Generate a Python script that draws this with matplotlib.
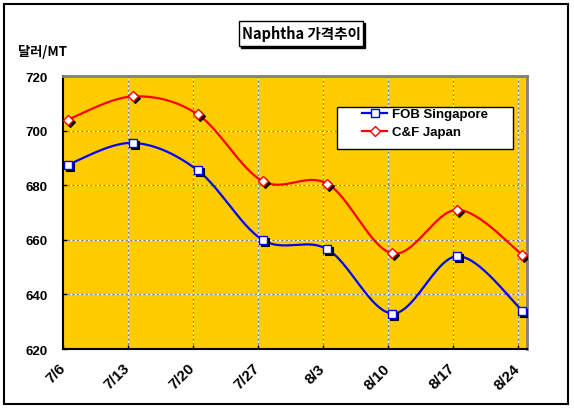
"""
Naphtha price trend (FOB Singapore vs C&F Japan), weekly, smoothed lines
in the old Excel style: gold plot area, shadowed markers, boxed title.

Output: out.png (574x410).
"""

import matplotlib
matplotlib.use("Agg")
import matplotlib.pyplot as plt
import matplotlib.transforms as mtransforms
from matplotlib.patches import Rectangle
import numpy as np
import pandas as pd

dates = ["7/6", "7/13", "7/20", "7/27", "8/3", "8/10", "8/17", "8/24"]
fob_singapore = [687.5, 695.5, 685.5, 660.0, 656.5, 633.0, 654.0, 634.0]
cf_japan = [704.0, 712.5, 706.0, 681.5, 680.5, 655.0, 671.0, 654.5]
y_ticks = [620, 640, 660, 680, 700, 720]

BG_PLOT = "#FFCC00"
W, H = 574, 410
KR = ["Noto Sans CJK KR", "DejaVu Sans"]
LAT = ["Liberation Sans", "DejaVu Sans"]


def excel_smooth(x, y, n=30):
    """Bezier smoothing like Excel's 'smoothed line' (Catmull-Rom, 1/6)."""
    x = np.asarray(x, float)
    y = np.asarray(y, float)
    px = np.concatenate([[x[0]], x, [x[-1]]])
    py = np.concatenate([[y[0]], y, [y[-1]]])
    t = np.linspace(0, 1, n)[:, None]
    xs, ys = [], []
    for i in range(1, len(px) - 2):
        p0 = np.array([px[i], py[i]])
        p3 = np.array([px[i + 1], py[i + 1]])
        c1 = p0 + (p3 - np.array([px[i - 1], py[i - 1]])) / 6
        c2 = p3 - (np.array([px[i + 2], py[i + 2]]) - p0) / 6
        seg = ((1 - t) ** 3) * p0 + 3 * ((1 - t) ** 2) * t * c1 \
            + 3 * (1 - t) * t ** 2 * c2 + t ** 3 * p3
        xs.append(seg[:, 0])
        ys.append(seg[:, 1])
    return np.concatenate(xs), np.concatenate(ys)


# day offsets from the first date; Excel centres each point in its day
dt = pd.to_datetime(["2007/" + d for d in dates])
ticks = np.array((dt - dt[0]).days, float)
xpts = ticks + 0.5

fig = plt.figure(figsize=(W / 100, H / 100), dpi=100, facecolor="white")
ax = fig.add_axes([63 / W, 1 - 350 / H, (527 - 63) / W, (350 - 77) / H])
ax.set_facecolor(BG_PLOT)

shadow = ax.transData + mtransforms.ScaledTranslation(2 / 100, -2 / 100,
                                                         fig.dpi_scale_trans)
series = [
    (fob_singapore, "#0000FF", "s", 5.2, "FOB Singapore"),
    (cf_japan, "#FF0000", "D", 4.6, "C&F Japan"),
]
handles = []
for vals, col, mk, ms, lab in series:
    sx, sy = excel_smooth(xpts, vals)
    ax.plot(sx, sy, color=col, lw=1.6, zorder=3)
    ax.plot(xpts, vals, ls="none", marker=mk, ms=ms, mfc="black",
            mec="black", mew=0.8, transform=shadow, zorder=3.5)
    ax.plot(xpts, vals, ls="none", marker=mk, ms=ms, mfc="white",
            mec=col, mew=1.0, zorder=4)
    h, = ax.plot([], [], color=col, lw=1.6, marker=mk, ms=ms, mfc="white",
                 mec=col, mew=1.0, label=lab)
    handles.append(h)

ax.set_xlim(0, 50)
ax.set_ylim(620, 720)
ax.set_xticks(ticks)
ax.set_xticklabels(dates, rotation=45, ha="right", va="center",
                   rotation_mode="anchor", fontweight="bold", fontsize=11,
                   family=LAT)
ax.set_yticks(y_ticks)
ax.set_yticklabels([str(v) for v in y_ticks], fontweight="bold",
                   fontsize=9.5, family=LAT)
ax.tick_params(axis="x", direction="in", length=3, width=1, pad=12)
ax.tick_params(axis="y", direction="in", length=3, width=1, pad=11)
ax.grid(True, color="#808080", linestyle=(0, (2, 2)), gapcolor="white",
        lw=0.8, zorder=1)
ax.set_axisbelow(True)
for side in ("left", "bottom"):
    ax.spines[side].set_color("black")
    ax.spines[side].set_linewidth(1.5)
for side in ("top", "right"):
    ax.spines[side].set_color("#808080")
    ax.spines[side].set_linewidth(2)

# legend box
ax.add_patch(Rectangle((337 / W, 1 - 150 / H), (513 - 337) / W, 42 / H,
                       transform=fig.transFigure, facecolor="white",
                       edgecolor="black", lw=1, zorder=5, clip_on=False))
leg = ax.legend(handles=handles, loc="upper left",
                bbox_to_anchor=(362 / W, 1 - 109 / H),
                bbox_transform=fig.transFigure, frameon=False,
                handlelength=1.9, handletextpad=0.4, labelspacing=0.45,
                borderpad=0, borderaxespad=0,
                prop={"family": LAT, "weight": "bold", "size": 9.5})
leg.set_zorder(6)

# boxed title with drop shadow
fig.patches.append(Rectangle((241 / W, 1 - 49 / H), 124 / W, 25 / H,
                             transform=fig.transFigure, facecolor="black",
                             edgecolor="black", lw=1))
fig.patches.append(Rectangle((239 / W, 1 - 47 / H), 124 / W, 25 / H,
                             transform=fig.transFigure, facecolor="white",
                             edgecolor="black", lw=1))
fig.text(301 / W, 1 - 34.5 / H, "Naphtha 가격추이", ha="center",
         va="center", fontsize=10.5, fontweight="bold", family=KR)

fig.text(18 / W, 1 - 52 / H, "달러/MT", ha="left", va="center",
         fontsize=9.5, fontweight="bold", family=KR)

# outer chart frame
fig.patches.append(Rectangle((4 / W, 5 / H), (568 - 4) / W, (405 - 5) / H,
                             transform=fig.transFigure, fill=False,
                             edgecolor="black", lw=1.5))

fig.savefig("out.png", dpi=100, facecolor="white")
